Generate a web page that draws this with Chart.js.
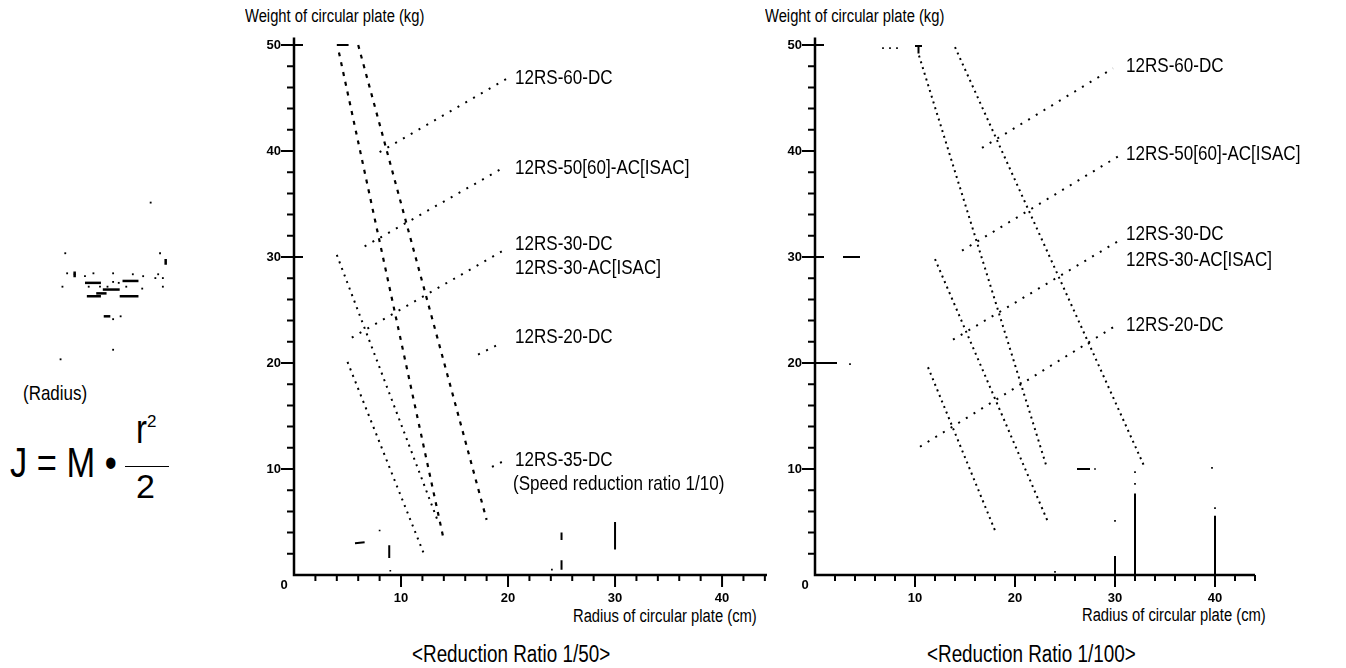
<!DOCTYPE html>
<html>
<head>
<meta charset="utf-8">
<script src="https://cdn.jsdelivr.net/npm/chart.js@4.4.0/dist/chart.umd.min.js"></script>
<style>
  html, body { margin: 0; padding: 0; background: #fff; }
  body { width: 1346px; height: 668px; position: relative; overflow: hidden;
         font-family: "Liberation Sans", Arial, sans-serif; color: #000; }
  canvas { position: absolute; }
  .txt { position: absolute; white-space: nowrap; line-height: 1; }
  .nar { transform: scaleX(0.82); transform-origin: left top; }
  .bar { position: absolute; border-top: 1.6px solid #000; }
</style>
</head>
<body>
<div class="txt nar" style="left:245px; top:7px; font-size:18px;">Weight of circular plate (kg)</div>
<div class="txt nar" style="left:765px; top:7px; font-size:18px;">Weight of circular plate (kg)</div>
<div class="txt nar" style="left:573px; top:607px; font-size:18px;">Radius of circular plate (cm)</div>
<div class="txt nar" style="left:1082px; top:606px; font-size:18px;">Radius of circular plate (cm)</div>
<div class="txt nar" style="left:412px; top:642.5px; font-size:23px;">&lt;Reduction Ratio 1/50&gt;</div>
<div class="txt nar" style="left:927px; top:642.5px; font-size:23px;">&lt;Reduction Ratio 1/100&gt;</div>
<div class="txt nar" style="left:23px; top:383px; font-size:20.7px;">(Radius)</div>
<div class="txt nar" style="left:10px; top:442px; font-size:42px;">J = M •</div>
<div class="txt nar" style="left:136px; top:409px; font-size:40px;">r</div>
<div class="txt" style="left:147px; top:413px; font-size:17px;">2</div>
<div class="bar" style="left:125px; top:466px; width:44px;"></div>
<div class="txt" style="left:136px; top:469px; font-size:34px;">2</div>

<canvas id="plate" width="130" height="180" style="left:50px; top:190px;"></canvas>
<canvas id="c50" width="560" height="600" style="left:230px; top:25px;"></canvas>
<canvas id="c100" width="560" height="600" style="left:750px; top:25px;"></canvas>

<script>
// ---- axes (cm / kg) ----
const xMajorTicks = [10, 20, 30, 40];
const xMinorTicks = [2, 4, 6, 8, 12, 14, 16, 18, 22, 24, 26, 28, 32, 34, 36, 38, 42, 44];
const yMajorTicks = [10, 20, 30, 40, 50];
const yMinorTicks = [2, 4, 6, 8, 12, 14, 16, 18, 22, 24, 26, 28, 32, 34, 36, 38, 42, 44, 46, 48];

// ---- reduction ratio 1/50 ----
const r50Names = ['12RS-60-DC', '12RS-50[60]-AC[ISAC]', '12RS-30-DC', '12RS-30-AC[ISAC]',
                  '12RS-20-DC', '12RS-35-DC', '(Speed reduction ratio 1/10)'];
// limit lines, each [start, end]
const r50LineX = [[4.2, 14.0], [6.0, 18.0], [4.0, 13.4], [5.0, 12.1]];
const r50LineY = [[49.3, 3.3], [50.0, 5.2], [30.2, 5.2], [20.1, 2.1]];
// leader lines to the model names
const r50LeadX = [[8.0, 20.0], [6.6, 19.7], [5.4, 19.7], [17.2, 19.4], [18.5, 19.9]];
const r50LeadY = [[39.9, 46.9], [31.0, 38.5], [22.4, 30.7], [20.8, 21.9], [10.2, 10.9]];
// short solid strokes left in the scan
const r50BitX = [[4.0, 5.1], [5.7, 6.6], [8.9, 8.9], [25, 25], [25, 25], [30, 30]];
const r50BitY = [[50, 50], [3.0, 3.1], [2.8, 1.6], [4.0, 3.3], [1.4, 0.5], [5.0, 2.4]];
const r50DotX = [8.0, 9.0, 24.1];
const r50DotY = [4.2, 0.4, 0.5];

// ---- reduction ratio 1/100 ----
const r100Names = ['12RS-60-DC', '12RS-50[60]-AC[ISAC]', '12RS-30-DC', '12RS-30-AC[ISAC]', '12RS-20-DC'];
const r100LineX = [[10.4, 23.1], [14.0, 33.0], [12.0, 23.3], [11.3, 18.0]];
const r100LineY = [[49.0, 10.4], [49.8, 10.1], [29.8, 5.0], [19.6, 4.2]];
const r100LeadX = [[16.7, 29.8], [14.7, 30.5], [13.8, 30.5], [10.5, 30.2]];
const r100LeadY = [[40.3, 47.8], [30.6, 39.6], [22.2, 31.6], [12.1, 23.6]];
const r100BitX = [[10.0, 10.7], [10.35, 10.35], [2.8, 4.5], [0, 2.2], [26.2, 27.5], [30, 30], [32, 32], [40, 40]];
const r100BitY = [[49.9, 49.9], [49.9, 49.2], [30, 30], [20, 20], [10, 10], [0, 1.8], [0, 7.7], [0, 5.6]];
const r100DotX = [6.8, 7.5, 8.2, 3.5, 28, 30, 32, 32, 40, 39.7, 24];
const r100DotY = [49.7, 49.7, 49.7, 19.9, 10, 5.1, 8.6, 9.7, 6.3, 10.1, 0.3];

// ---- the little plate drawing (dots of the scan) ----
const plateDotX = [103, 12, 113, 14, 22, 33, 42, 63, 84, 95, 111, 108, 116, 9, 37, 49, 57, 63, 69, 77, 94, 116, 63, 71, 63, 7];
const plateDotY = [9, 62, 62, 83, 84, 86, 83, 83, 84, 86, 84, 88, 88, 97, 97, 97, 97, 92, 93, 97, 99, 97, 131, 128, 163, 173];
const plateDashX = [[33, 50], [73, 90], [52, 70], [35, 50], [70, 90], [45, 56], [53, 60], [119, 119], [22, 22]];
const plateDashY = [[93, 93], [91, 91], [100, 100], [107, 107], [107, 107], [104, 104], [128, 128], [68, 74], [81, 87]];

function segments(xs, ys, style) {
  return xs.map((xx, i) => Object.assign({
    data: xx.map((v, j) => ({ x: v, y: ys[i][j] })),
    showLine: true, pointRadius: 0, borderColor: '#000', borderCapStyle: 'butt', fill: false
  }, style));
}
function dots(xs, ys, r) {
  return {
    data: xs.map((v, i) => ({ x: v, y: ys[i] })),
    showLine: false, pointRadius: r, pointStyle: 'rect',
    backgroundColor: '#000', borderWidth: 0
  };
}

// draws the axis lines, tick marks, tick labels and model names
const framePlugin = {
  id: 'frame',
  afterDraw(chart, args, o) {
    if (!o || !o.on) return;
    const { ctx, chartArea: a } = chart;
    const sx = chart.scales.x, sy = chart.scales.y;
    const x0 = sx.getPixelForValue(0), y0 = sy.getPixelForValue(0);
    ctx.save();
    ctx.strokeStyle = '#000';
    ctx.fillStyle = '#000';
    ctx.lineWidth = 2.5;
    ctx.beginPath();
    ctx.moveTo(x0, a.top);
    ctx.lineTo(x0, y0);
    ctx.lineTo(a.right, y0);
    ctx.stroke();

    ctx.lineWidth = 2;
    ctx.beginPath();
    yMinorTicks.forEach(v => { const p = sy.getPixelForValue(v); ctx.moveTo(x0 - 7, p); ctx.lineTo(x0, p); });
    yMajorTicks.forEach(v => {
      const p = sy.getPixelForValue(v);
      ctx.moveTo(x0 - 13, p);
      ctx.lineTo(x0 + (v === 50 || v === 30 ? 9 : 0), p);
    });
    xMinorTicks.forEach(v => { const p = sx.getPixelForValue(v); ctx.moveTo(p, y0); ctx.lineTo(p, y0 + 6); });
    xMajorTicks.forEach(v => { const p = sx.getPixelForValue(v); ctx.moveTo(p, y0); ctx.lineTo(p, y0 + 12); });
    ctx.stroke();

    ctx.font = 'bold 13px "Liberation Sans", Arial, sans-serif';
    ctx.textBaseline = 'middle';
    ctx.textAlign = 'right';
    yMajorTicks.forEach(v => ctx.fillText(String(v), x0 - 13, sy.getPixelForValue(v)));
    ctx.textAlign = 'center';
    xMajorTicks.forEach(v => ctx.fillText(String(v), sx.getPixelForValue(v), y0 + 23));
    ctx.fillText('0', x0 - 10, y0 + 10);

    const fs = 20.8;
    ctx.font = fs + 'px "Liberation Sans", Arial, sans-serif';
    ctx.textAlign = 'left';
    ctx.textBaseline = 'alphabetic';
    o.names.forEach((t, i) => {
      const px = sx.getPixelForValue(o.nameX[i]);
      const py = sy.getPixelForValue(o.nameY[i]) + 0.358 * fs;
      ctx.save();
      ctx.translate(px, py);
      ctx.scale(0.82, 1);
      ctx.fillText(t, 0, 0);
      ctx.restore();
    });
    ctx.restore();
  }
};

function makeChart(id, xMax, pad, datasets, frame) {
  return new Chart(document.getElementById(id), {
    type: 'scatter',
    data: { datasets: datasets },
    options: {
      responsive: false,
      animation: false,
      events: [],
      layout: { padding: pad },
      scales: {
        x: { type: 'linear', min: 0, max: xMax, display: false },
        y: { type: 'linear', min: 0, max: 50.7, display: false }
      },
      plugins: { legend: { display: false }, tooltip: { enabled: false }, frame: frame }
    },
    plugins: [framePlugin]
  });
}

const dashed = { borderWidth: 2.2, borderDash: [4, 6] };
const dotted = { borderWidth: 2, borderDash: [2, 5] };
const fine = { borderWidth: 2, borderDash: [2, 4] };
const leader = { borderWidth: 2, borderDash: [2, 7] };
const solid = { borderWidth: 2 };

makeChart('c50', 44.2, { left: 64, right: 23, top: 12.6, bottom: 50 }, [
  ...segments(r50LineX.slice(0, 2), r50LineY.slice(0, 2), dashed),
  ...segments(r50LineX.slice(2), r50LineY.slice(2), dotted),
  ...segments(r50LeadX, r50LeadY, leader),
  ...segments(r50BitX, r50BitY, solid),
  dots(r50DotX, r50DotY, 1.2)
], { on: true, names: r50Names,
     nameX: [20.65, 20.65, 20.65, 20.65, 20.65, 20.65, 20.47],
     nameY: [47.0, 38.5, 31.4, 29.1, 22.6, 11.0, 8.7] });

makeChart('c100', 44, { left: 65, right: 55, top: 12.6, bottom: 50 }, [
  ...segments(r100LineX, r100LineY, fine),
  ...segments(r100LeadX, r100LeadY, leader),
  ...segments(r100BitX, r100BitY, solid),
  dots(r100DotX, r100DotY, 1.2)
], { on: true, names: r100Names,
     nameX: [31.1, 31.1, 31.1, 31.1, 31.1],
     nameY: [48.2, 39.9, 32.3, 29.9, 23.7] });

new Chart(document.getElementById('plate'), {
  type: 'scatter',
  data: { datasets: [
    ...segments(plateDashX, plateDashY, { borderWidth: 2.5 }),
    dots(plateDotX, plateDotY, 1.3)
  ] },
  options: {
    responsive: false, animation: false, events: [],
    layout: { padding: 0 },
    scales: {
      x: { type: 'linear', min: 0, max: 130, display: false },
      y: { type: 'linear', min: 0, max: 180, reverse: true, display: false }
    },
    plugins: { legend: { display: false }, tooltip: { enabled: false } }
  }
});
</script>
</body>
</html>
